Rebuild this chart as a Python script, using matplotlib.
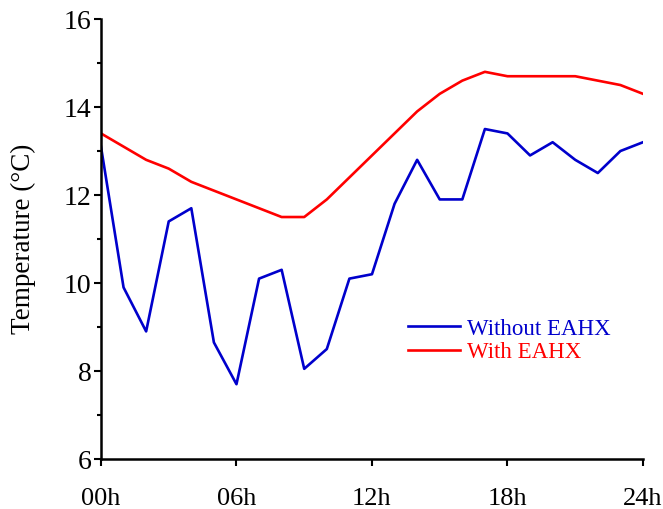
import matplotlib.pyplot as plt
from matplotlib.ticker import MultipleLocator

plt.rcParams['font.family'] = ['Liberation Serif', 'DejaVu Serif']

# hourly temperatures, 00h .. 24h
hours = list(range(25))
without_eahx = [13.1, 9.9, 8.9, 11.4, 11.7, 8.65, 7.7, 10.1, 10.3, 8.05, 8.5, 10.1, 10.2,
                11.8, 12.8, 11.9, 11.9, 13.5, 13.4, 12.9, 13.2, 12.8, 12.5, 13.0, 13.2]
with_eahx = [13.4, 13.1, 12.8, 12.6, 12.3, 12.1, 11.9, 11.7, 11.5, 11.5, 11.9, 12.4, 12.9,
             13.4, 13.9, 14.3, 14.6, 14.8, 14.7, 14.7, 14.7, 14.7, 14.6, 14.5, 14.3]
xticks = [0, 6, 12, 18, 24]
xticklabels = ['00h', '06h', '12h', '18h', '24h']

fig = plt.figure(figsize=(6.63, 5.09), dpi=100)
ax = fig.add_axes([0.1523, 0.0982, 0.8175, 0.8644])

ax.plot(hours, without_eahx, color='#0000cc', lw=1.9, label='Without EAHX')
ax.plot(hours, with_eahx, color='#ff0000', lw=1.9, label='With EAHX')

ax.set_xlim(0, 24)
ax.set_ylim(6, 16)
ax.set_xticks(xticks)
ax.set_xticklabels(xticklabels)
ax.yaxis.set_major_locator(MultipleLocator(2))
ax.yaxis.set_minor_locator(MultipleLocator(1))

for s in ['top', 'right']:
    ax.spines[s].set_visible(False)
for s in ['left', 'bottom']:
    ax.spines[s].set_linewidth(1.8)

ax.tick_params(axis='y', which='major', direction='out', length=5, width=1.5, labelsize=20, pad=2)
ax.tick_params(axis='y', which='minor', direction='out', length=3, width=1.5)
ax.tick_params(axis='x', which='major', direction='out', length=5, width=1.5, labelsize=19, pad=16)

ax.set_ylabel('Temperature (°C)', fontsize=19.5, labelpad=20)

leg = ax.legend(loc='center left', bbox_to_anchor=(0.566, 0.269), frameon=False,
                fontsize=16.5, handlelength=2.3, handletextpad=0.3, labelspacing=0.1,
                borderpad=0, borderaxespad=0)
for t, l in zip(leg.get_texts(), leg.get_lines()):
    t.set_color(l.get_color())

fig.savefig('out.png', dpi=100)
